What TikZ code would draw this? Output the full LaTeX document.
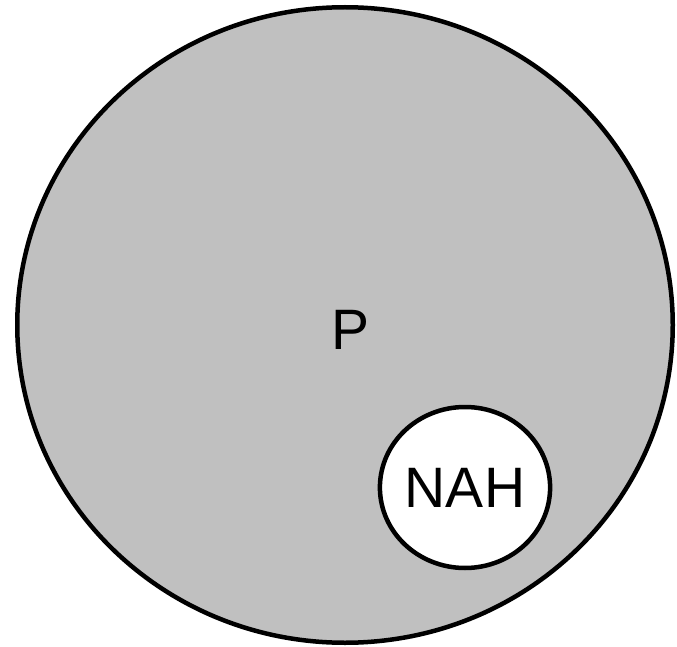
\documentclass[tikz,border=0pt]{standalone}
\usepackage{fontspec}
\setmainfont{Liberation Sans}
\usepackage{tikz}
\usetikzlibrary{shapes.geometric}
\definecolor{setgray}{RGB}{192,192,192}
\tikzset{
  region/.style={ellipse,draw=black,line width=4.5pt,inner sep=0pt},
  setlabel/.style={font=\fontsize{57}{60}\selectfont,inner sep=0pt},
}

\begin{document}
\begin{tikzpicture}[x=1pt,y=-1pt]
  \useasboundingbox (0,0) rectangle (677,647);
  \node[region,fill=setgray,minimum width=655.5pt,minimum height=635.5pt] (p) at (345,325) {};
  \node[setlabel] (plabel) at (351,330) {P};

  \node[region,fill=white,minimum width=170pt,minimum height=161pt,setlabel] (nah) at (465,487.5) {NAH};
\end{tikzpicture}
\end{document}
